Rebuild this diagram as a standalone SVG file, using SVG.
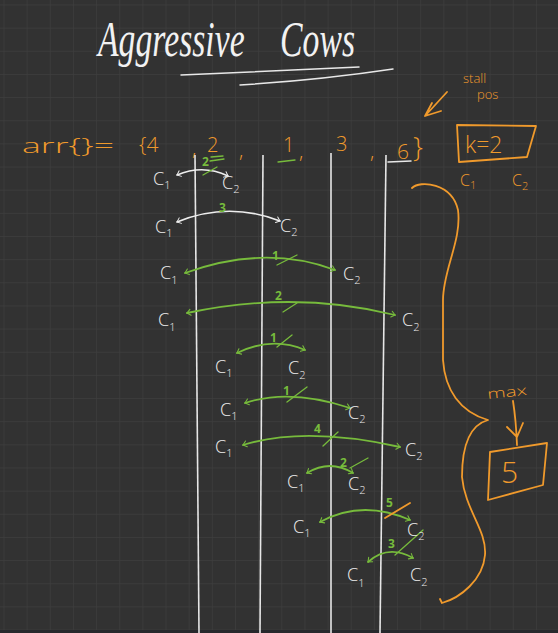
<svg xmlns="http://www.w3.org/2000/svg" width="558" height="633" viewBox="0 0 558 633">
<defs>
<pattern id="grid" x="3.5" y="4.5" width="23.15" height="23.15" patternUnits="userSpaceOnUse">
<path d="M0,0 H23.15 M0,0 V23.15" stroke="#3e3e3e" stroke-width="1.4" fill="none"/>
</pattern>
<marker id="aw" viewBox="-10 -10 20 20" markerWidth="12" markerHeight="12" refX="0" refY="0" orient="auto-start-reverse" markerUnits="userSpaceOnUse">
<path d="M-6,-5 L0,0 L-6,5" fill="none" stroke="#eeeeee" stroke-width="1.6" stroke-linecap="round"/>
</marker>
<marker id="ag" viewBox="-10 -10 20 20" markerWidth="12" markerHeight="12" refX="0" refY="0" orient="auto-start-reverse" markerUnits="userSpaceOnUse">
<path d="M-6,-5 L0,0 L-6,5" fill="none" stroke="#77bb3c" stroke-width="1.8" stroke-linecap="round"/>
</marker>
</defs>
<style>
.w{fill:#eeeeee;font-family:"Open Sans","Noto Sans","DejaVu Sans",sans-serif;font-weight:300;font-size:18px}
.sub{font-size:11px}
.o{fill:#f09a2c;font-family:"Open Sans","Noto Sans","DejaVu Sans",sans-serif;font-weight:300}
.g{fill:#77bb3c;font-family:"Noto Sans","DejaVu Sans",sans-serif;font-size:12px;font-weight:bold}
.arcw{fill:none;stroke:#eeeeee;stroke-width:1.6;stroke-linecap:round;marker-start:url(#aw);marker-end:url(#aw)}
.arcg{fill:none;stroke:#77bb3c;stroke-width:1.8;stroke-linecap:round;marker-start:url(#ag);marker-end:url(#ag)}
.sg{stroke:#77bb3c;stroke-width:1.3;stroke-linecap:round;fill:none}
.so{stroke:#f09a2c;stroke-width:1.8;stroke-linecap:round;stroke-linejoin:round;fill:none}
.vl{stroke:#e6e6e6;stroke-width:1.6;fill:none}
</style>
<rect width="558" height="633" fill="#323232"/>
<rect width="558" height="633" fill="url(#grid)"/>
<rect y="630" width="558" height="3" fill="#27282c"/>

<g id="title">
<text x="98" y="56" fill="#f2f2f2" font-family="Liberation Serif, serif" font-style="italic" font-size="50" word-spacing="40" textLength="257" lengthAdjust="spacingAndGlyphs">Aggressive Cows</text>
<path d="M181,75 L359,67 M240,85 Q320,80 393,69" stroke="#e8e8e8" stroke-width="1.5" fill="none" stroke-linecap="round"/>
</g>

<g id="array">
<text class="o" x="22" y="153" font-size="20" textLength="92" lengthAdjust="spacingAndGlyphs">arr{}=</text>
<text class="o" x="139" y="152" font-size="21">{4</text>
<text class="o" x="192" y="155" font-size="20">,</text>
<text class="o" x="207" y="152" font-size="20">2</text>
<text class="o" x="239" y="157" font-size="20">,</text>
<text class="o" x="283" y="152" font-size="20">1</text>
<text class="o" x="299" y="158" font-size="20">,</text>
<text class="o" x="336" y="151" font-size="20">3</text>
<text class="o" x="370" y="158" font-size="20">,</text>
<text class="o" x="397" y="159" font-size="21">6</text>
<text class="o" x="413" y="157" font-size="28">}</text>
<path d="M211,157 L223,156 M210,161 L224,159 M278,162 L295,160" class="sg" stroke-width="1.8"/>
<path d="M388,162 L411,161" stroke="#e8e8e8" stroke-width="1.5" fill="none" stroke-linecap="round"/>
</g>

<g id="stall-pos">
<text class="o" x="463" y="83" font-size="13">stall</text>
<text class="o" x="477" y="99" font-size="13">pos</text>
<path d="M447,92 L425,116 M432,103 L425,116 L441,111" class="so"/>
</g>

<g id="k-box">
<path d="M457,125 L536,126 L527,157 L459,162 Z" class="so"/>
<text class="o" x="465" y="153" font-size="23">k=2</text>
<text class="o" x="460" y="186" font-size="16">C<tspan font-size="11" dy="3">1</tspan></text>
<text class="o" x="512" y="186" font-size="16">C<tspan font-size="11" dy="4">2</tspan></text>
</g>

<g id="columns">
<path class="vl" d="M195,155 L199,633"/>
<path class="vl" d="M263,155 L260,633"/>
<path class="vl" d="M331,153 L331,633"/>
<path class="vl" d="M386,155 L380,633"/>
</g>

<g id="connectors">
<path class="arcw" d="M177,175 Q203,164 228,176"/>
<path class="arcw" d="M177,222 Q228,201 280,221"/>
<path class="arcg" d="M185,273 Q265,244 335,270"/>
<path class="arcg" d="M187,313 Q295,290 395,315"/>
<path class="arcg" d="M237,353 Q272,336 305,350"/>
<path class="arcg" d="M245,403 Q290,388 350,408"/>
<path class="arcg" d="M243,445 Q305,426 400,447"/>
<path class="arcg" d="M307,473 Q330,459 353,473"/>
<path class="arcg" d="M320,522 Q362,499 410,520"/>
<path class="arcg" d="M368,562 Q388,544 413,558"/>
<path class="sg" d="M203,175 L217,167 M277,265 L297,255 M283,312 L297,303 M277,347 L292,335 M287,402 L307,387 M323,446 L338,432 M350,468 L368,458 M395,555 L423,530"/>
<path class="so" stroke-width="1.4" d="M385,518 L410,503"/>
</g>

<g id="edge-labels">
<text class="g" x="202" y="166">2</text>
<text class="g" x="219" y="212">3</text>
<text class="g" x="272" y="260">1</text>
<text class="g" x="275" y="300">2</text>
<text class="g" x="270" y="342">1</text>
<text class="g" x="283" y="395">1</text>
<text class="g" x="314" y="433">4</text>
<text class="g" x="340" y="467">2</text>
<text class="g" x="386" y="507">5</text>
<text class="g" x="388" y="548">3</text>
</g>

<g id="cows">
<text class="w" x="153" y="185">C<tspan class="sub" dy="4">1</tspan></text>
<text class="w" x="222" y="189">C<tspan class="sub" dy="4">2</tspan></text>
<text class="w" x="155" y="233">C<tspan class="sub" dy="4">1</tspan></text>
<text class="w" x="280" y="232">C<tspan class="sub" dy="4">2</tspan></text>
<text class="w" x="160" y="279">C<tspan class="sub" dy="5">1</tspan></text>
<text class="w" x="343" y="280">C<tspan class="sub" dy="4">2</tspan></text>
<text class="w" x="158" y="326">C<tspan class="sub" dy="5">1</tspan></text>
<text class="w" x="402" y="326">C<tspan class="sub" dy="5">2</tspan></text>
<text class="w" x="215" y="373">C<tspan class="sub" dy="4">1</tspan></text>
<text class="w" x="288" y="374">C<tspan class="sub" dy="5">2</tspan></text>
<text class="w" x="220" y="416">C<tspan class="sub" dy="4">1</tspan></text>
<text class="w" x="348" y="419">C<tspan class="sub" dy="4">2</tspan></text>
<text class="w" x="215" y="453">C<tspan class="sub" dy="4">1</tspan></text>
<text class="w" x="405" y="456">C<tspan class="sub" dy="4">2</tspan></text>
<text class="w" x="287" y="488">C<tspan class="sub" dy="4">1</tspan></text>
<text class="w" x="348" y="490">C<tspan class="sub" dy="4">2</tspan></text>
<text class="w" x="293" y="533">C<tspan class="sub" dy="4">1</tspan></text>
<text class="w" x="407" y="536">C<tspan class="sub" dy="4">2</tspan></text>
<text class="w" x="347" y="581">C<tspan class="sub" dy="6">1</tspan></text>
<text class="w" x="410" y="581">C<tspan class="sub" dy="5">2</tspan></text>
</g>

<g id="brace">
<path class="so" d="M412,188 C420,180 452,183 458,210 C462,240 443,270 443,300 L443,360 C445,390 460,412 488,420 C470,425 462,445 462,477 C465,510 487,530 485,555 C483,580 460,598 442,603 L440,599"/>
</g>

<g id="max-result">
<text class="o" x="487" y="397" font-size="14" textLength="40" lengthAdjust="spacingAndGlyphs" transform="rotate(-6 507 392)">max</text>
<path class="so" d="M513,401 Q516,420 517,445 M507,427 L517,437 L523,423"/>
<path class="so" d="M490,452 L547,443 L543,485 L488,500 Z"/>
<text class="o" x="501" y="483" font-size="30">5</text>
</g>
</svg>
